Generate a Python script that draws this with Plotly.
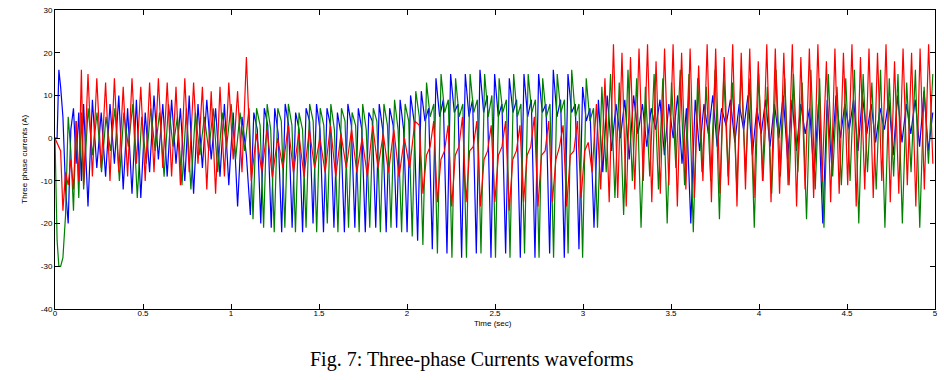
import plotly.graph_objects as go

# ---- data (current in A, time in s) ----
T_START = [0.0, 0.012, 0.022, 0.032, 0.045, 0.06, 0.075, 0.09, 0.105, 0.12, 0.135, 0.15]
blue_start = [0, 0, 16, 12, 5, -12, -20, 2, 7, -6, 6, -10]
green_start = [0, -24, -30, -30, -28, -18, 5, -3, -17, 4, -14, 6]
red_start = [0, -1, -2, -3, -17, -8, -11, -5, -12, 4, -10, 16]

blue_edges = [0.15, 1.1, 2.05, 3.05, 5.0]
green_edges = [0.15, 1.115, 2.08, 3.07, 5.0]
red_edges = [0.15, 1.1, 2.06, 3.04, 5.0]

blue_s1 = [8, -16, 9, -7, 6, -9, 8, -6, 10, -12, 7, -13, 9, -14, 6, -8, 10, -5, 8, -9,
           9, -6, 7, -10, 10, -13, 8, -7, 9, -5, 7, -9, 8, -11, 6, -16, 5, -4]
blue_s2 = [-18, 6, 2, -20, 7, 3, -21, 7, 1, -22, 8, 3, -21, 6, 2, -22, 7, 4, -20, 8, 2, -22, 7, 3,
           -21, 6, 1, -22, 8, 3, -21, 7, 2, -22, 6, 4, -21, 8, 2, -22, 7, 3, -21, 9, 2, -22, 10, 4]
blue_s3 = [-24, 11, 4, 7, -26, 14, 5, 9, -27, 15, 6, 8, -28, 15, 5, 9, -27, 16, 6, 10, -28, 15, 5, 8,
           -27, 14, 6, 9, -28, 15, 5, 9, -28, 15, 6, 8, -27, 16, 5, 9, -28, 15, 6, 8, -26, 12, 4, 7]
blue_s4 = [-21, 9, -8, 10, -3, 8, 0, 9, -5, 10, 1, 8, -2, 7, 2, 9, -4, 8, 0, 10, -6, 7, -20, 9, -3, 8,
           1, 10, -2, 7, 3, 9, -1, 8, 2, 10, -4, 7, 1, 9, -2, 8, 0, 10, -5, 9, -3, 8, 1, 7, -9, 8,
           -20, 9, -6, 10, 0, 8, 2, 9, -3, 10, 1, 8, -1, 7, 2, 9, -4, 10, -1, 8, 1, 9, -2, 11, -3, 6]

green_s1 = [-12, 7, -4, 6, -8, 5, -3, 7, -10, 6, -2, 8, -14, 5, -6, 7, -3, 6, -9, 8,
            -2, 5, -11, 7, -12, 6, -4, 5, -3, 7, -8, 6, -2, 8, -5, 6, -3, 7]
green_s2 = [-19, 7, 3, -21, 8, 2, -22, 7, 4, -21, 8, 3, -22, 6, 2, -21, 8, 4, -22, 7, 3, -20, 8, 2,
            -22, 7, 4, -21, 6, 3, -22, 8, 2, -21, 7, 4, -22, 8, 3, -21, 9, 2, -22, 8, 4, -23, 11, 5]
green_s3 = [-25, 13, 5, 8, -27, 15, 6, 9, -28, 14, 5, 8, -28, 15, 6, 9, -27, 15, 5, 10, -28, 14, 6, 9,
            -28, 15, 5, 8, -27, 15, 6, 9, -28, 14, 5, 8, -28, 15, 6, 9, -27, 16, 5, 8, -28, 14, 4, 7]
green_s4 = [-21, 12, -8, 15, -14, 13, -18, 16, -10, 14, -21, 12, -9, 15, -12, 14, -20, 13, -7, 16,
            -11, 15, -22, 14, -8, 12, -10, 16, -19, 15, -9, 13, -12, 16, -8, 14, -21, 15, -10, 12,
            -13, 16, -9, 14, -11, 15, -8, 13, -19, 16, -12, 14, -21, 15, -9, 12, -11, 14, -10, 16,
            -20, 15, -8, 13, -12, 16, -21, 14, -9, 15, -20, 13, -8, 16, -21, 12, -6, 15]

red_s1 = [-11, 15, -9, 14, -7, 13, -10, 14, -8, 12, -9, 14, -6, 12, -10, 13, -8, 14, -7, 13,
          -9, 12, -11, 14, -8, 13, -6, 12, -12, 11, -13, 12, -9, 13, -5, 11, -8, 19]
red_s2 = [-10, 1, -8, 2, -9, 0, -7, 3, -8, 1, -9, 2, -7, 0, -8, 3,
          -9, 1, -7, 2, -8, 0, -9, 3, -7, 1, -8, 2, -9, 0, -7, 4]
red_s3 = [3, -13, -4, -2, 4, -15, -5, -3, 3, -16, -4, -2, 5, -15, -3, -2, 4, -16, -5, -3, 3, -15, -4, -2,
          4, -17, -5, -3, 3, -15, -4, -2, 5, -16, -4, -3, 4, -15, -5, -2, 3, -16, -4, -3, 4, -14, -3, -1]
red_s4 = [-8, 8, -12, 14, -15, 22, -14, 20, -16, 19, -12, 21, -10, 22, -15, 18, -13, 21, -11, 22,
          -16, 20, -12, 21, -14, 17, -10, 22, -15, 21, -13, 19, -11, 22, -16, 20, -12, 21, -14, 18,
          -10, 22, -15, 21, -13, 20, -11, 22, -16, 19, -12, 21, -14, 22, -10, 18, -15, 21, -13, 20,
          -11, 22, -16, 19, -12, 21, -14, 20, -10, 22, -15, 18, -13, 21, -11, 20, -16, 21, -12, 22, -6]

X_TICKS = [0, 0.5, 1, 1.5, 2, 2.5, 3, 3.5, 4, 4.5, 5]
X_TICK_LABELS = ["0", "0.5", "1", "1.5", "2", "2.5", "3", "3.5", "4", "4.5", "5"]
Y_TICKS = [-40, -30, -20, -10, 0, 10, 20, 30]
Y_TICK_LABELS = ["-40", "-30", "-20", "-10", "0", "10", "20", "30"]


def build(v_start, edges, segs):
    t = list(T_START)
    v = list(v_start)
    for a, b, vals in zip(edges[:-1], edges[1:], segs):
        dt = (b - a) / len(vals)
        t += [a + (i + 0.5) * dt for i in range(len(vals))]
        v += vals
    return t, v


series = [
    ("blue", "#0000FF", build(blue_start, blue_edges, [blue_s1, blue_s2, blue_s3, blue_s4])),
    ("green", "#008000", build(green_start, green_edges, [green_s1, green_s2, green_s3, green_s4])),
    ("red", "#FF0000", build(red_start, red_edges, [red_s1, red_s2, red_s3, red_s4])),
]

fig = go.Figure()
for name, color, (t, v) in series:
    fig.add_trace(go.Scatter(x=t, y=v, mode="lines", name=name,
                             line=dict(color=color, width=1.2), showlegend=False))

axis_common = dict(showline=True, linecolor="black", linewidth=1, mirror="ticks",
                   ticks="inside", ticklen=5, tickcolor="black", showgrid=False,
                   zeroline=False, automargin=False, ticklabeloverflow="allow",
                   tickfont=dict(family="Liberation Sans", size=8, color="black"))
fig.update_xaxes(range=[0, 5], tickvals=X_TICKS, ticktext=X_TICK_LABELS,
                 ticklabelstandoff=-4, **axis_common)
fig.update_yaxes(range=[-40, 30], tickvals=Y_TICKS, ticktext=Y_TICK_LABELS, **axis_common)

fig.update_layout(
    width=944, height=380,
    margin=dict(l=55, r=9, t=10, b=71, autoexpand=False),
    paper_bgcolor="white", plot_bgcolor="white",
    annotations=[
        dict(text="Three phase currents (A)", xref="paper", yref="paper",
             x=-0.035, y=0.5, xanchor="center", yanchor="middle", textangle=-90,
             showarrow=False, font=dict(family="Liberation Sans", size=8, color="black")),
        dict(text="Time (sec)", xref="paper", yref="paper", x=0.498, y=-0.047,
             xanchor="center", yanchor="middle", showarrow=False,
             font=dict(family="Liberation Sans", size=8, color="black")),
        dict(text="Fig. 7: Three-phase Currents waveforms", xref="paper", yref="paper",
             x=0.474, y=-0.17, xanchor="center", yanchor="middle", showarrow=False,
             font=dict(family="Liberation Serif", size=20, color="black")),
    ],
)

# remove the default 8 px page margin so the figure sits at the window's top-left corner
fig.write_html("out.html", config={"displayModeBar": False},
               post_script="document.body.style.margin='0';")
